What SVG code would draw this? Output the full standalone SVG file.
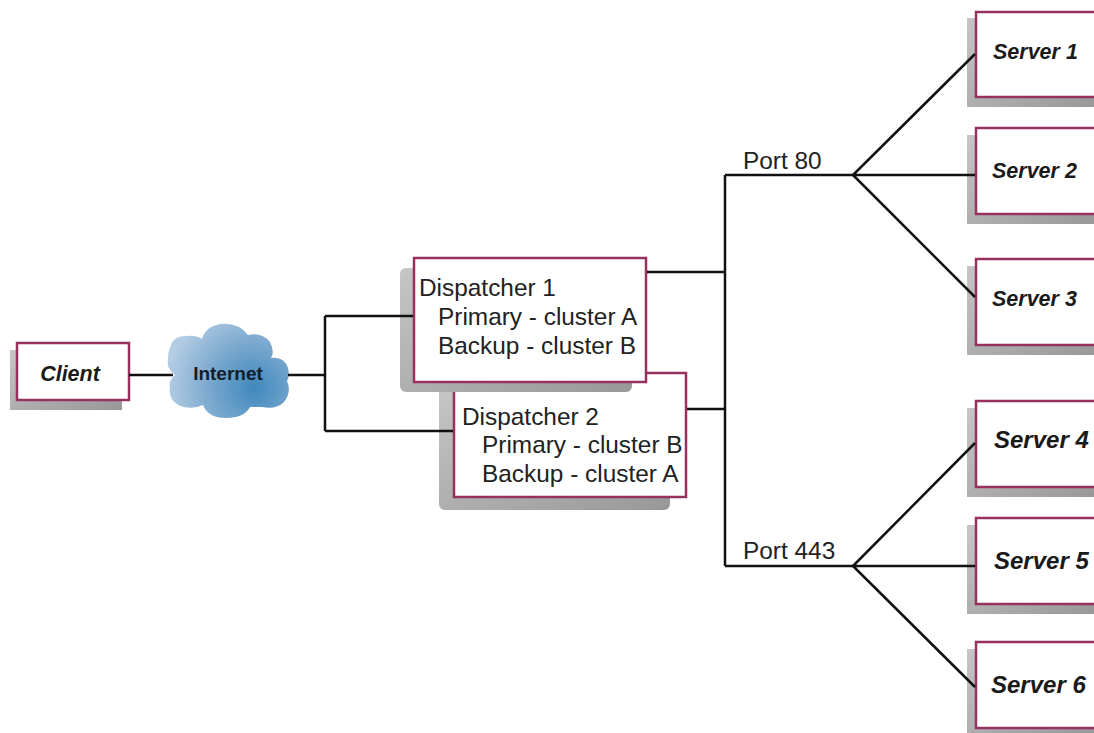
<svg xmlns="http://www.w3.org/2000/svg" width="1094" height="733" viewBox="0 0 1094 733">
<style>
.box{fill:#fff;stroke:#95325f;stroke-width:2.5}
.shadow{fill:url(#shade)}
.line{fill:none;stroke:#111;stroke-width:2.5}
.plain{font-family:"Liberation Sans",Arial,sans-serif;font-size:24.4px;fill:#222}
.ital{font-family:"Liberation Sans",Arial,sans-serif;font-size:21.5px;font-style:italic;font-weight:bold;fill:#1a1a1a}
.large{font-size:24px}
.net{font-family:"Liberation Sans",Arial,sans-serif;font-size:19px;font-weight:bold;fill:#10202c}
</style>
<defs>
<linearGradient id="shade" x1="0" y1="0" x2="1" y2="1">
<stop offset="0" stop-color="#c6c6c6"/><stop offset="1" stop-color="#989898"/>
</linearGradient>
<radialGradient id="cloudFill" gradientUnits="userSpaceOnUse" cx="254" cy="388" r="88">
<stop offset="0" stop-color="#3f88bd"/><stop offset=".55" stop-color="#7fabd0"/><stop offset="1" stop-color="#b5cde4"/>
</radialGradient>
</defs>
<g id="client">
<rect class="shadow" x="10" y="350" width="112" height="60"/>
<rect class="box" x="17" y="343" width="112" height="57"/>
<text class="ital" x="70" y="381" text-anchor="middle">Client</text>
</g>
<g id="internet">
<path d="M170 348Q172 336 186 336Q196 335 202 339Q205 327 220 324Q238 322 248 335Q262 332 270 342Q275 352 271 358Q284 356 288 368Q290 376 287 381Q292 392 284 402Q276 410 262 407Q254 407 250 407Q244 418 226 418Q208 418 203 405Q192 410 180 406Q168 400 170 388Q168 381 175 375Q166 368 168 360Q168 352 170 348Z" fill="url(#cloudFill)"/>
<text class="net" x="228" y="380" text-anchor="middle">Internet</text>
</g>
<g id="dispatcher2">
<rect class="shadow" x="439" y="385" width="231" height="125" rx="6"/>
<rect class="box" x="454" y="373" width="232" height="124"/>
<text class="plain" x="462" y="425">Dispatcher 2</text>
<text class="plain" x="482" y="453">Primary - cluster B</text>
<text class="plain" x="482" y="482">Backup - cluster A</text>
</g>
<g id="dispatcher1">
<rect class="shadow" x="400" y="268" width="232" height="124" rx="6"/>
<rect class="box" x="414" y="258" width="232" height="124"/>
<text class="plain" x="419" y="296">Dispatcher 1</text>
<text class="plain" x="438" y="325">Primary - cluster A</text>
<text class="plain" x="438" y="354">Backup - cluster B</text>
</g>
<g id="server1">
<rect class="shadow" x="967" y="18" width="127" height="89"/>
<rect class="box" x="976" y="12" width="130" height="85"/>
<text class="ital" x="993" y="59">Server 1</text>
</g>
<g id="server2">
<rect class="shadow" x="967" y="135" width="127" height="89"/>
<rect class="box" x="976" y="128" width="130" height="86"/>
<text class="ital" x="992" y="178">Server 2</text>
</g>
<g id="server3">
<rect class="shadow" x="967" y="266" width="127" height="89"/>
<rect class="box" x="976" y="259" width="130" height="86"/>
<text class="ital" x="992" y="306">Server 3</text>
</g>
<g id="server4">
<rect class="shadow" x="967" y="408" width="127" height="89"/>
<rect class="box" x="976" y="401" width="130" height="86"/>
<text class="ital large" x="994" y="448">Server 4</text>
</g>
<g id="server5">
<rect class="shadow" x="967" y="525" width="127" height="89"/>
<rect class="box" x="976" y="518" width="130" height="86"/>
<text class="ital large" x="994" y="569">Server 5</text>
</g>
<g id="server6">
<rect class="shadow" x="967" y="649" width="127" height="84"/>
<rect class="box" x="976" y="642" width="130" height="86"/>
<text class="ital large" x="991" y="693">Server 6</text>
</g>
<g id="connectors" class="line">
<path d="M129 375H173M288 375H325M325 316V431M325 316H413M325 431H453"/>
<path d="M647 272H725M687 409H725M725 175V566M725 175H853M725 566H853"/>
<path d="M853 175L975 54M853 175H975M853 175L975 297"/>
<path d="M853 566L975 443M853 566H975M853 566L975 687"/>
</g>
<g id="labels">
<text class="plain" x="743" y="169">Port 80</text>
<text class="plain" x="743" y="559">Port 443</text>
</g>
</svg>
